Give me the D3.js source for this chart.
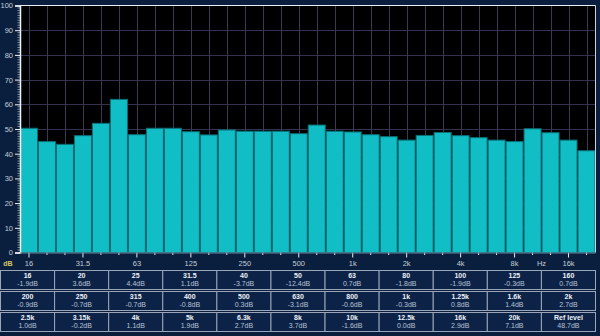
<!DOCTYPE html>
<html>
<head>
<meta charset="utf-8">
<script src="https://cdn.jsdelivr.net/npm/d3@7"></script>
<style>
  html, body { margin: 0; padding: 0; background: #0a1f3e; }
  svg { display: block; }
</style>
</head>
<body>
<svg id="chart" width="600" height="336"></svg>
<script>
// ---- data ----
const bands = ["16","20","25","31.5","40","50","63","80","100","125","160",
  "200","250","315","400","500","630","800","1k","1.25k","1.6k","2k",
  "2.5k","3.15k","4k","5k","6.3k","8k","10k","12.5k","16k","20k"];
const levels = [50.3, 44.9, 43.8, 47.3, 52.3, 62.0, 47.7, 50.3, 50.3, 48.9, 47.6,
  49.6, 49.1, 49.1, 49.1, 48.1, 51.6, 49.1, 48.8, 47.7, 46.9, 45.5,
  47.4, 48.6, 47.3, 46.5, 45.5, 44.9, 50.1, 48.5, 45.5, 41.2];
const deviations = [-1.9, 3.6, 4.4, 1.1, -3.7, -12.4, 0.7, -1.8, -1.9, -0.3, 0.7,
  -0.9, -0.7, -0.7, -0.8, 0.3, -3.1, -0.6, -0.3, 0.8, 1.4, 2.7,
  1.0, -0.2, 1.1, 1.9, 2.7, 3.7, -1.6, 0.0, 2.9, 7.1];
const refLevel = 48.7;
const yTicks = [0, 10, 20, 30, 40, 50, 60, 70, 80, 90, 100];
const xTickLabels = ["16","31.5","63","125","250","500","1k","2k","4k","8k","16k"];
const unitLabel = "Hz";
const yUnitLabel = "dB";

// ---- layout ----
const svg = d3.select("#chart");
const L = 20, R = 595.5, T = 5.5, B = 252.5;
const font = "'Liberation Sans', Arial, sans-serif";

const x = d3.scaleBand().domain(bands).range([L, R]).paddingInner(0).paddingOuter(0);
const y = d3.scaleLinear().domain([0, 100]).range([B, T]);

// plot background
svg.append("rect").attr("x", L).attr("y", T).attr("width", R - L).attr("height", B - T)
  .attr("fill", "#000000");

// gridlines
svg.append("g").selectAll("line").data(yTicks.filter(d => d > 0 && d < 100)).join("line")
  .attr("x1", L).attr("x2", R)
  .attr("y1", d => Math.round(y(d)) + 0.5).attr("y2", d => Math.round(y(d)) + 0.5)
  .attr("stroke", "#34334f").attr("stroke-width", 1);
svg.append("g").selectAll("line").data(bands).join("line")
  .attr("x1", d => Math.round(x(d) + x.bandwidth() / 2) + 0.5)
  .attr("x2", d => Math.round(x(d) + x.bandwidth() / 2) + 0.5)
  .attr("y1", T).attr("y2", B)
  .attr("stroke", "#3a3956").attr("stroke-width", 1);

// bars
svg.append("g").selectAll("rect").data(bands).join("rect")
  .attr("x", d => x(d) + 0.5)
  .attr("y", (d, i) => y(levels[i]))
  .attr("width", x.bandwidth() - 1)
  .attr("height", (d, i) => B - y(levels[i]))
  .attr("fill", "#12bec6")
  .attr("stroke", "#0b6f78").attr("stroke-width", 1);

// frame lines
svg.append("line").attr("x1", L).attr("x2", R).attr("y1", T).attr("y2", T)
  .attr("stroke", "#e8eef6").attr("stroke-width", 1.2);
svg.append("line").attr("x1", R).attr("x2", R).attr("y1", T).attr("y2", B)
  .attr("stroke", "#c8d0dc").attr("stroke-width", 1);

// y axis
const yAxis = d3.axisLeft(y).tickValues(yTicks).tickSize(5).tickPadding(2);
const gy = svg.append("g").attr("transform", `translate(${L},0)`).call(yAxis);
gy.select(".domain").attr("stroke", "#f0f4f8").attr("stroke-width", 1.5);
gy.selectAll(".tick line").attr("stroke", "#f0f4f8");
gy.selectAll(".tick text").attr("fill", "#c4ccd8").attr("font-size", 7.5)
  .attr("font-family", font);
// minor y ticks
const yMinor = d3.range(0, 101, 1).filter(d => d % 10 !== 0);
svg.append("g").selectAll("line").data(yMinor).join("line")
  .attr("x1", L - 2.5).attr("x2", L)
  .attr("y1", d => y(d)).attr("y2", d => y(d))
  .attr("stroke", "#d0d8e2").attr("stroke-width", 0.6);

// x axis ticks
const xAxisG = svg.append("g");
xAxisG.selectAll("line").data(bands).join("line")
  .attr("x1", d => x(d) + x.bandwidth() / 2).attr("x2", d => x(d) + x.bandwidth() / 2)
  .attr("y1", B).attr("y2", d => xTickLabels.includes(d) ? B + 5 : B + 2.5)
  .attr("stroke", "#e8eef6").attr("stroke-width", 1);
xAxisG.append("line").attr("x1", L).attr("x2", R).attr("y1", B + 0.5).attr("y2", B + 0.5)
  .attr("stroke", "#6a8aa0").attr("stroke-width", 1);
xAxisG.selectAll("text.xl").data(xTickLabels).join("text").attr("class", "xl")
  .attr("x", d => x(d) + x.bandwidth() / 2).attr("y", 266)
  .attr("text-anchor", "middle").attr("fill", "#c4ccd8")
  .attr("font-size", 7.5).attr("font-family", font).text(d => d);
xAxisG.append("text").attr("x", x("12.5k")).attr("y", 266)
  .attr("text-anchor", "middle").attr("fill", "#c4ccd8")
  .attr("font-size", 7.5).attr("font-family", font).text(unitLabel);
svg.append("text").attr("x", 8).attr("y", 266).attr("text-anchor", "middle")
  .attr("fill", "#d4c86a").attr("font-size", 7).attr("font-weight", "bold")
  .attr("font-family", font).text(yUnitLabel);

// ---- table ----
const cells = bands.map((b, i) => ({ head: b, val: deviations[i].toFixed(1) + "dB" }));
cells.push({ head: "Ref level", val: refLevel.toFixed(1) + "dB" });
const nCols = 11;
const colX = d3.scaleBand().domain(d3.range(nCols)).range([0.5, 595.5]);
const rowTops = [270.5, 291.5, 312.5];
const rowH = 19;
const tg = svg.append("g");
const cg = tg.selectAll("g").data(cells).join("g")
  .attr("transform", (d, i) => `translate(${colX(i % nCols)},${rowTops[Math.floor(i / nCols)]})`);
cg.append("rect").attr("width", colX.bandwidth()).attr("height", rowH)
  .attr("fill", "#0c2246").attr("stroke", "#9aa6b8").attr("stroke-width", 1);
cg.append("text").attr("x", colX.bandwidth() / 2).attr("y", 7.5)
  .attr("text-anchor", "middle").attr("fill", "#eef2f8").attr("font-size", 7)
  .attr("font-weight", "bold").attr("font-family", font).text(d => d.head);
cg.append("text").attr("x", colX.bandwidth() / 2).attr("y", 15)
  .attr("text-anchor", "middle").attr("fill", "#b8c4d6").attr("font-size", 7)
  .attr("font-family", font).text(d => d.val);
</script>
</body>
</html>
